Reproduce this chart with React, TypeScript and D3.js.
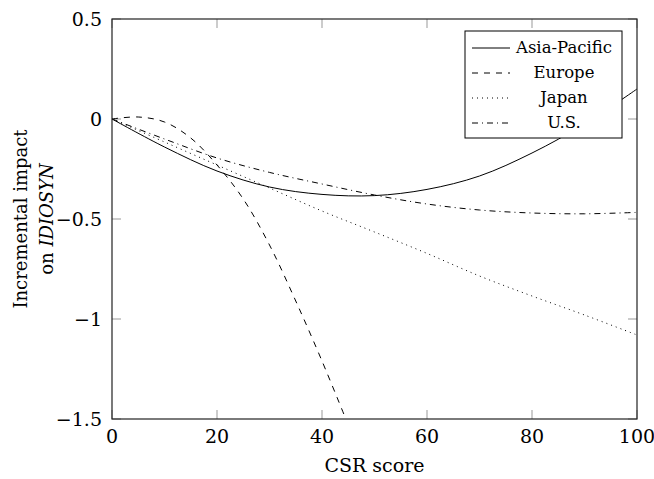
import React from 'react';
import * as d3 from 'd3';

// values, CSR score -> incremental impact
const asiaPacific: [number, number][] = [
  [0, 0], [10, -0.14], [20, -0.26], [30, -0.34], [40, -0.377], [50, -0.383],
  [60, -0.352], [70, -0.285], [80, -0.17], [90, -0.025], [100, 0.15],
];
const europe: [number, number][] = [
  [0, 0], [5, 0.01], [10, -0.015], [15, -0.095], [20, -0.23], [25, -0.4],
  [30, -0.63], [35, -0.91], [40, -1.21], [45, -1.53],
];
const japan: [number, number][] = [
  [0, 0], [10, -0.115], [20, -0.23], [30, -0.345], [40, -0.46], [50, -0.565],
  [60, -0.672], [70, -0.785], [80, -0.885], [90, -0.98], [100, -1.08],
];
const us: [number, number][] = [
  [0, 0], [10, -0.1], [20, -0.195], [30, -0.267], [40, -0.325], [50, -0.38],
  [60, -0.425], [70, -0.455], [80, -0.47], [90, -0.474], [100, -0.467],
];

const xTicks = [0, 20, 40, 60, 80, 100];
const yTicks = [-1.5, -1, -0.5, 0, 0.5];

const seriesNames = ['Asia-Pacific', 'Europe', 'Japan', 'U.S.'];
const dashes = ['none', '6 6', '1 4', '6 4 1 4'];

const W = 654, H = 479;
const left = 112, right = 637, top = 19, bottom = 419;
const font = 'DejaVu Serif';

const x = d3.scaleLinear().domain([0, 100]).range([left, right]);
const y = d3.scaleLinear().domain([-1.5, 0.5]).range([bottom, top]);

const line = d3.line<[number, number]>()
  .x(d => x(d[0]))
  .y(d => y(d[1]))
  .curve(d3.curveCatmullRom.alpha(0.5));

const fmt = (v: number) => (v < 0 ? '\u2212' + Math.abs(v) : String(v));

function Txt(props: any) {
  return <text fontFamily={font} fontSize={19} {...props} />;
}

export default function App() {
  const data = [asiaPacific, europe, japan, us];
  const tickLen = 9;
  const lg = { x0: 465, y0: 31, w: 157, h: 107 };
  return (
    <svg width={W} height={H} style={{ position: 'absolute', left: 0, top: 0 }}>
      <defs>
        <clipPath id="plot">
          <rect x={left} y={top} width={right - left} height={bottom - top} />
        </clipPath>
      </defs>

      {/* ticks, mirrored on both sides */}
      {xTicks.map(t => (
        <g key={'x' + t} stroke="#999" strokeWidth={1}>
          <line x1={x(t)} x2={x(t)} y1={bottom} y2={bottom - tickLen} />
          <line x1={x(t)} x2={x(t)} y1={top} y2={top + tickLen} />
        </g>
      ))}
      {yTicks.map(t => (
        <g key={'y' + t} stroke="#999" strokeWidth={1}>
          <line x1={left} x2={left + tickLen} y1={y(t)} y2={y(t)} />
          <line x1={right} x2={right - tickLen} y1={y(t)} y2={y(t)} />
        </g>
      ))}

      {/* curves */}
      <g clipPath="url(#plot)" fill="none" stroke="#000" strokeWidth={1}>
        {data.map((d, i) => (
          <path key={i} d={line(d) || ''} strokeDasharray={dashes[i]} />
        ))}
      </g>

      <rect x={left} y={top} width={right - left} height={bottom - top}
        fill="none" stroke="#222" strokeWidth={1.2} />

      {/* tick labels */}
      {xTicks.map(t => (
        <Txt key={'xl' + t} x={x(t)} y={443} textAnchor="middle">{t}</Txt>
      ))}
      {yTicks.map(t => (
        <Txt key={'yl' + t} x={102} y={y(t) + 7} textAnchor="end">{fmt(t)}</Txt>
      ))}

      <Txt x={(left + right) / 2} y={472} textAnchor="middle">CSR score</Txt>
      <g transform={`translate(0,${(top + bottom) / 2}) rotate(-90)`}>
        <Txt x={0} y={27} fontSize={18} textAnchor="middle">Incremental impact</Txt>
        <Txt x={0} y={53} fontSize={18} textAnchor="middle">on <tspan fontStyle="italic">IDIOSYN</tspan></Txt>
      </g>

      {/* legend */}
      <g>
        <rect x={lg.x0} y={lg.y0} width={lg.w} height={lg.h} fill="#fff" stroke="#000" strokeWidth={1} />
        {seriesNames.map((n, i) => {
          const ry = 48 + i * 25;
          return (
            <g key={n}>
              <line x1={472} x2={510} y1={ry} y2={ry} stroke="#000" strokeWidth={1}
                strokeDasharray={dashes[i]} />
              <Txt x={564} y={ry + 5} fontSize={16.5} textAnchor="middle">{n}</Txt>
            </g>
          );
        })}
      </g>
    </svg>
  );
}
